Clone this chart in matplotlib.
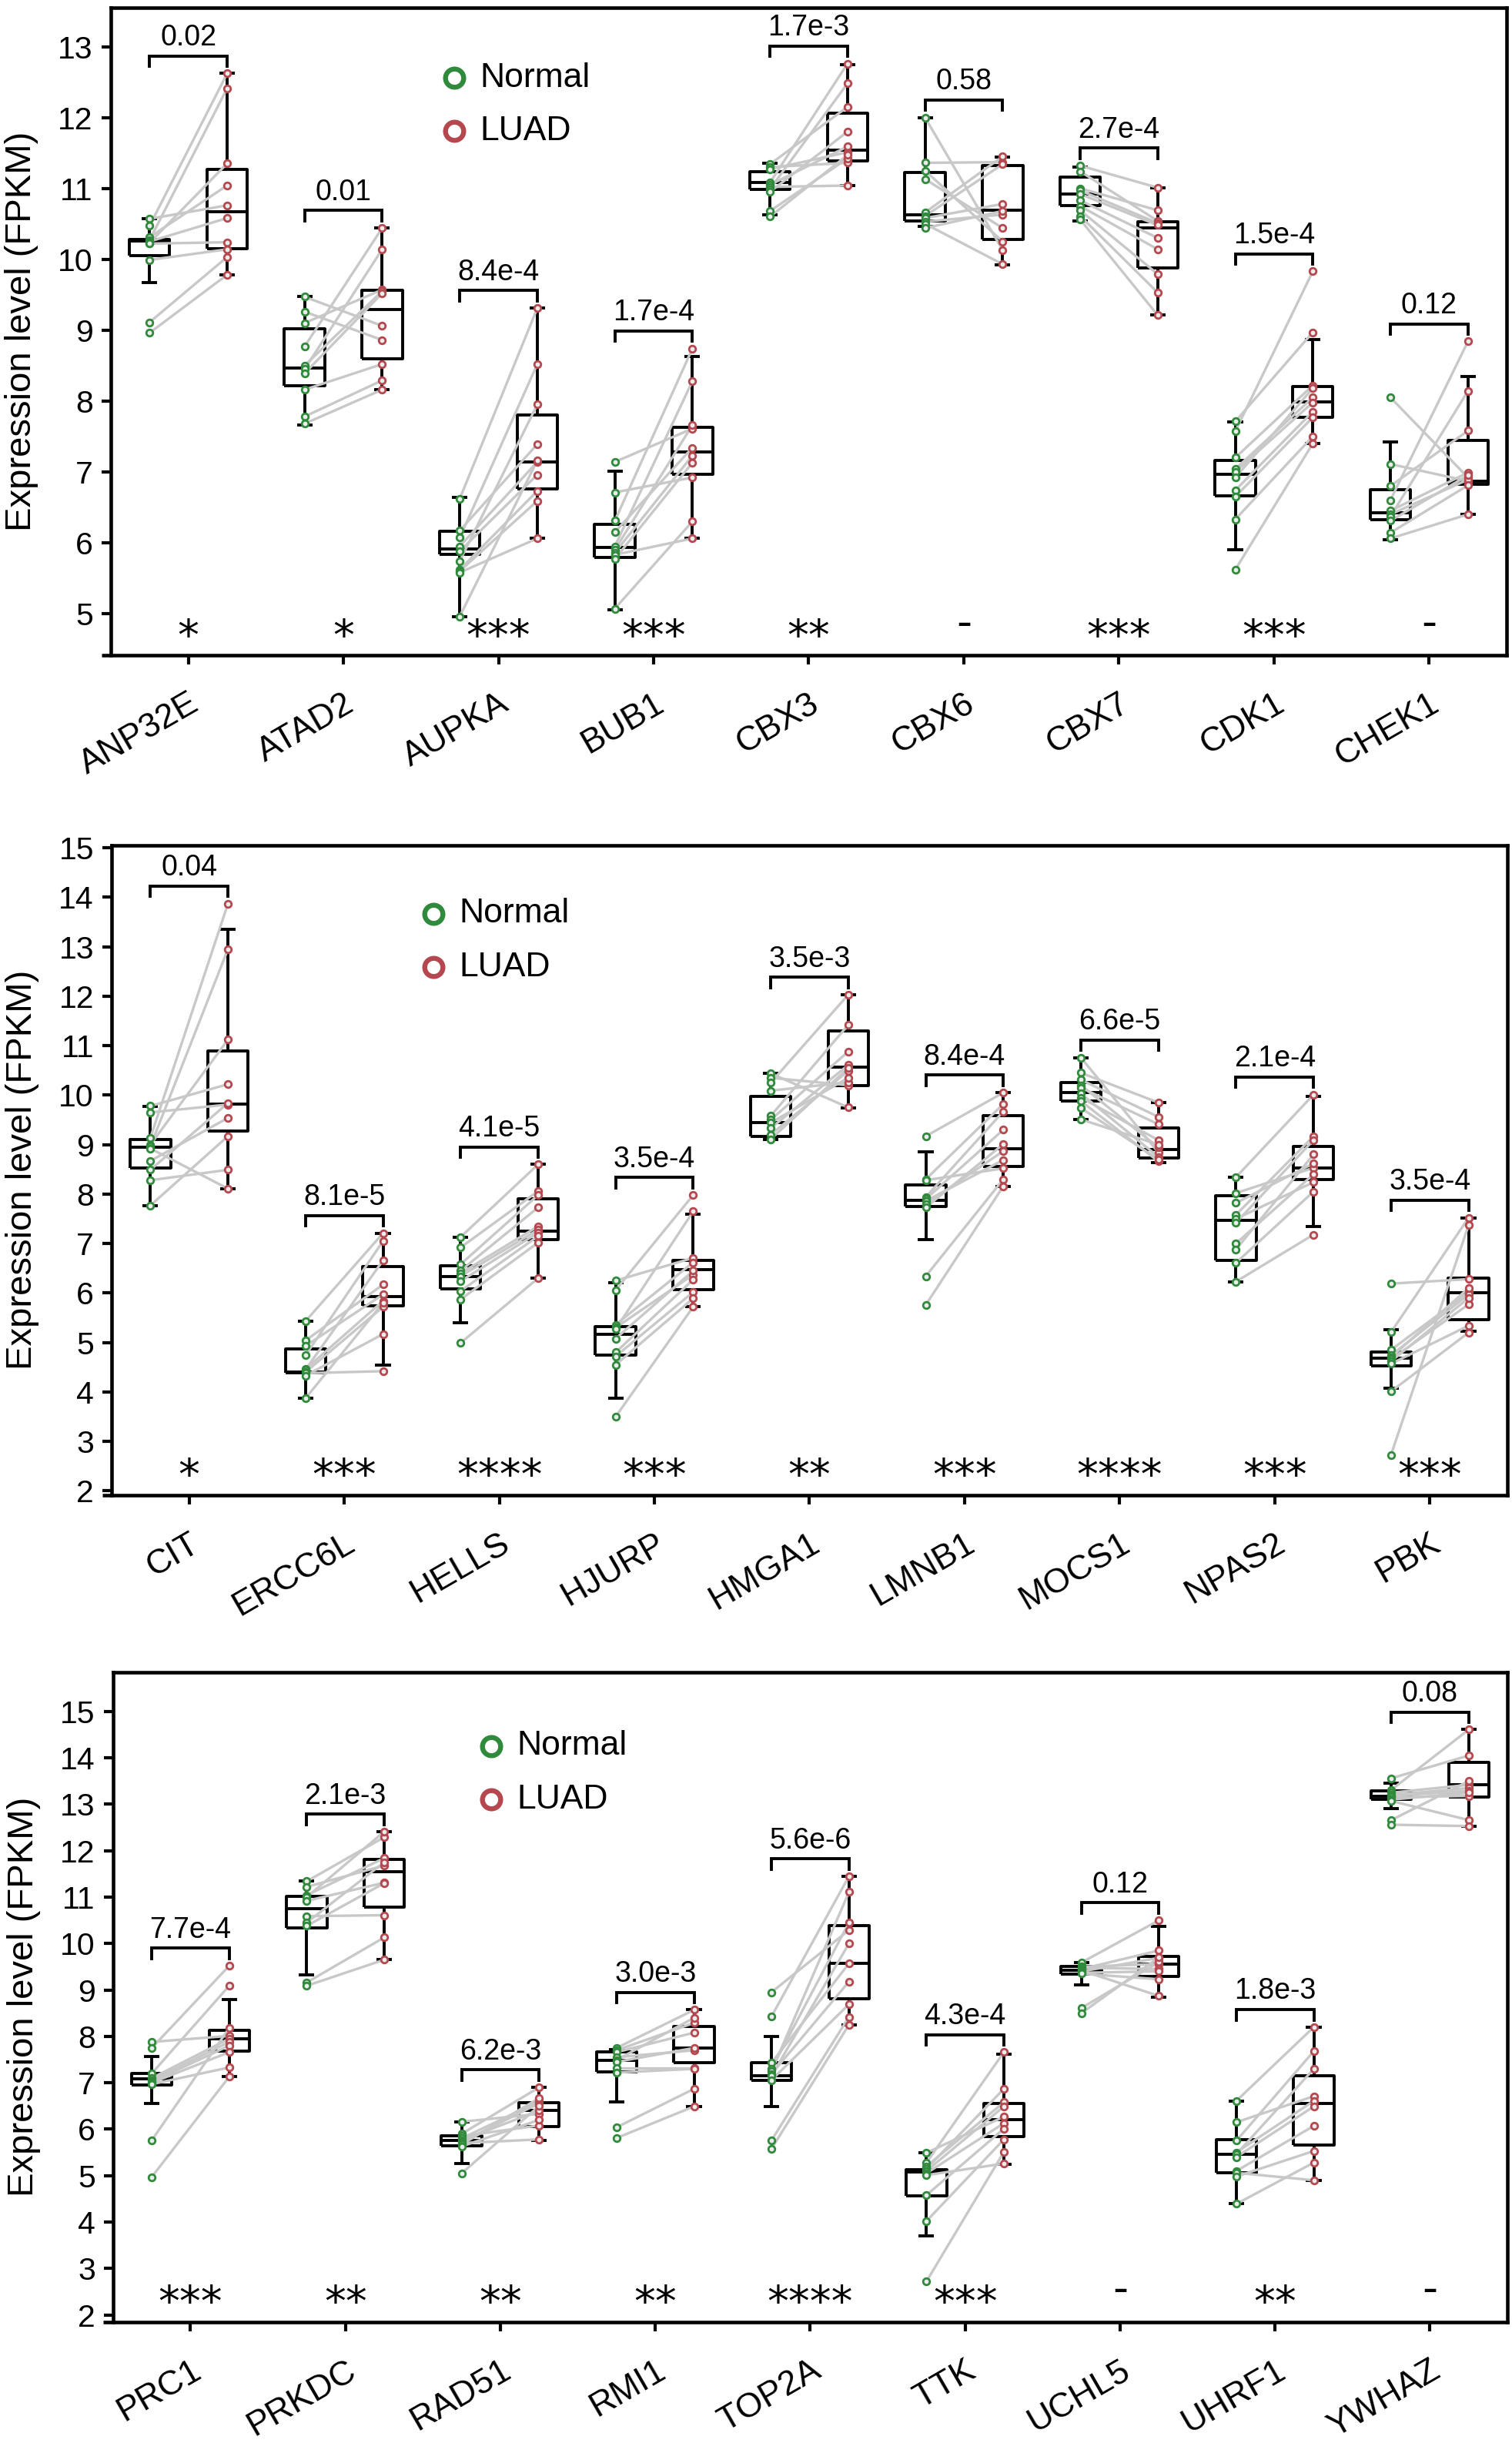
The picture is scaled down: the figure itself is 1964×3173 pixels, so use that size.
import matplotlib
matplotlib.use("Agg")
import matplotlib.pyplot as plt
from matplotlib.transforms import ScaledTranslation, blended_transform_factory

plt.rcParams["font.family"] = ["Liberation Sans", "DejaVu Sans"]

GREEN = "#2f8a3c"
RED = "#b5474f"
GREY = "#c8c8c8"

# ---- top panel ----
GENES_TOP = ["ANP32E", "ATAD2", "AUPKA", "BUB1", "CBX3", "CBX6", "CBX7", "CDK1", "CHEK1"]
NORMAL_TOP = [
    [10.57, 10.47, 10.31, 10.27, 10.25, 10.23, 10.22, 9.99, 9.11, 8.96],
    [9.47, 9.26, 9.10, 8.77, 8.50, 8.45, 8.39, 8.16, 7.78, 7.68],
    [6.62, 6.17, 6.07, 5.95, 5.88, 5.74, 5.62, 5.60, 5.58, 4.96],
    [7.14, 6.71, 6.31, 6.15, 5.95, 5.90, 5.86, 5.83, 5.77, 5.07],
    [11.34, 11.30, 11.27, 11.08, 11.05, 11.02, 10.99, 10.95, 10.68, 10.60],
    [12.00, 11.36, 11.25, 11.13, 10.66, 10.61, 10.58, 10.53, 10.50, 10.44],
    [11.32, 11.24, 11.00, 10.97, 10.92, 10.83, 10.75, 10.69, 10.61, 10.56],
    [7.71, 7.57, 7.20, 7.04, 7.00, 6.92, 6.74, 6.65, 6.33, 5.62],
    [8.05, 7.11, 6.80, 6.60, 6.45, 6.40, 6.37, 6.31, 6.14, 6.06],
]
LUAD_TOP = [
    [10.76, 12.62, 11.04, 12.41, 10.58, 11.35, 10.24, 10.14, 10.03, 9.78],
    [9.06, 8.86, 9.57, 10.44, 9.55, 10.14, 9.52, 8.52, 8.29, 8.16],
    [9.31, 7.39, 8.52, 7.14, 6.96, 7.95, 6.73, 6.59, 6.06, 7.16],
    [7.61, 6.92, 8.74, 7.34, 8.28, 7.66, 7.23, 6.06, 7.13, 6.30],
    [12.15, 11.36, 11.51, 12.76, 11.59, 11.04, 12.48, 11.80, 11.42, 11.47],
    [10.13, 11.37, 10.25, 10.44, 11.45, 11.34, 10.78, 10.63, 9.93, 10.68],
    [11.01, 10.54, 10.69, 10.51, 10.48, 10.30, 10.14, 9.79, 9.53, 9.21],
    [8.97, 9.83, 8.22, 8.05, 7.98, 8.18, 7.85, 7.77, 7.50, 7.40],
    [6.92, 6.87, 7.58, 8.84, 6.99, 6.89, 8.14, 6.95, 6.81, 6.40],
]
# box stats: whisker low, q1, median, q3, whisker high
NORMAL_BOX_TOP = [
    [9.67, 10.05, 10.26, 10.28, 10.57],
    [7.66, 8.21, 8.46, 9.02, 9.47],
    [4.96, 5.84, 5.91, 6.16, 6.64],
    [5.05, 5.79, 5.93, 6.26, 7.01],
    [10.63, 10.99, 11.08, 11.23, 11.35],
    [10.46, 10.54, 10.63, 11.22, 12.00],
    [10.54, 10.76, 10.92, 11.16, 11.30],
    [5.90, 6.66, 6.97, 7.16, 7.70],
    [6.04, 6.33, 6.42, 6.75, 7.42],
]
LUAD_BOX_TOP = [
    [9.78, 10.15, 10.67, 11.27, 12.62],
    [8.16, 8.60, 9.29, 9.56, 10.44],
    [6.06, 6.76, 7.14, 7.80, 9.31],
    [6.06, 6.97, 7.28, 7.63, 8.63],
    [11.04, 11.39, 11.54, 12.06, 12.74],
    [9.92, 10.28, 10.69, 11.32, 11.44],
    [9.21, 9.88, 10.44, 10.53, 11.01],
    [7.40, 7.77, 7.99, 8.20, 8.87],
    [6.40, 6.83, 6.87, 7.44, 8.34],
]
PVAL_TOP = ["0.02", "0.01", "8.4e-4", "1.7e-4", "1.7e-3", "0.58", "2.7e-4", "1.5e-4", "0.12"]
SIG_TOP = ["*", "*", "***", "***", "**", "-", "***", "***", "-"]

# ---- middle panel ----
GENES_MID = ["CIT", "ERCC6L", "HELLS", "HJURP", "HMGA1", "LMNB1", "MOCS1", "NPAS2", "PBK"]
NORMAL_MID = [
    [9.78, 9.65, 9.14, 9.00, 8.97, 8.92, 8.67, 8.49, 8.28, 7.77],
    [5.43, 5.04, 4.93, 4.74, 4.46, 4.45, 4.40, 4.38, 4.33, 3.87],
    [7.13, 6.92, 6.58, 6.45, 6.40, 6.34, 6.24, 6.04, 5.87, 4.99],
    [6.25, 6.06, 5.36, 5.30, 5.27, 5.08, 4.80, 4.72, 4.55, 3.50],
    [10.44, 10.35, 10.25, 10.09, 9.58, 9.50, 9.44, 9.33, 9.20, 9.11],
    [9.17, 8.30, 8.28, 7.94, 7.90, 7.86, 7.80, 7.73, 6.34, 5.76],
    [10.76, 10.45, 10.31, 10.20, 10.15, 10.03, 9.95, 9.88, 9.74, 9.51],
    [8.34, 8.02, 7.82, 7.58, 7.50, 7.42, 7.00, 6.88, 6.61, 6.23],
    [6.19, 5.21, 4.85, 4.74, 4.70, 4.66, 4.62, 4.57, 4.01, 2.73],
]
LUAD_MID = [
    [10.22, 9.81, 13.87, 11.12, 12.95, 8.11, 9.54, 9.84, 8.49, 9.17],
    [7.21, 6.17, 5.97, 7.05, 5.84, 6.66, 5.72, 4.42, 5.17, 5.80],
    [8.60, 8.06, 7.98, 7.73, 7.35, 7.28, 7.22, 7.15, 7.02, 6.30],
    [6.71, 7.98, 6.62, 6.37, 7.65, 6.45, 6.27, 6.02, 5.89, 5.72],
    [9.75, 10.20, 12.03, 10.26, 11.42, 10.88, 10.35, 10.61, 10.49, 10.55],
    [10.05, 9.82, 8.52, 9.67, 9.30, 8.69, 8.87, 9.01, 8.30, 8.16],
    [8.84, 9.85, 9.56, 8.94, 9.41, 8.75, 9.09, 8.66, 8.70, 9.00],
    [10.01, 8.53, 8.62, 9.17, 8.24, 9.09, 8.40, 8.80, 8.05, 7.18],
    [6.28, 7.52, 6.02, 5.97, 6.10, 5.77, 5.90, 5.34, 5.20, 7.37],
]
NORMAL_BOX_MID = [
    [7.77, 8.53, 8.94, 9.10, 9.77],
    [3.87, 4.38, 4.40, 4.87, 5.43],
    [5.40, 6.08, 6.34, 6.55, 7.13],
    [3.87, 4.74, 5.17, 5.32, 6.21],
    [9.10, 9.17, 9.44, 9.98, 10.44],
    [7.08, 7.75, 7.88, 8.19, 8.85],
    [9.51, 9.88, 10.05, 10.25, 10.76],
    [6.23, 6.66, 7.47, 7.96, 8.34],
    [4.08, 4.53, 4.68, 4.80, 5.26],
]
LUAD_BOX_MID = [
    [8.11, 9.27, 9.82, 10.89, 13.35],
    [4.54, 5.74, 5.93, 6.54, 7.20],
    [6.30, 7.08, 7.25, 7.90, 8.60],
    [5.72, 6.07, 6.47, 6.66, 7.59],
    [9.74, 10.20, 10.56, 11.29, 12.03],
    [8.16, 8.56, 8.92, 9.58, 10.05],
    [8.64, 8.73, 8.90, 9.33, 9.85],
    [7.34, 8.30, 8.53, 8.96, 9.97],
    [5.23, 5.46, 6.00, 6.30, 7.52],
]
PVAL_MID = ["0.04", "8.1e-5", "4.1e-5", "3.5e-4", "3.5e-3", "8.4e-4", "6.6e-5", "2.1e-4", "3.5e-4"]
SIG_MID = ["*", "***", "****", "***", "**", "***", "****", "***", "***"]

# ---- bottom panel ----
GENES_BOT = ["PRC1", "PRKDC", "RAD51", "RMI1", "TOP2A", "TTK", "UCHL5", "UHRF1", "YWHAZ"]
NORMAL_BOT = [
    [7.88, 7.75, 7.20, 7.10, 7.05, 7.02, 7.00, 6.97, 5.76, 4.97],
    [11.34, 11.22, 11.04, 11.00, 10.92, 10.59, 10.45, 10.38, 9.16, 9.09],
    [6.16, 5.90, 5.85, 5.80, 5.76, 5.72, 5.70, 5.67, 5.63, 5.05],
    [7.75, 7.70, 7.66, 7.55, 7.49, 7.45, 7.31, 7.22, 6.04, 5.81],
    [8.95, 8.43, 7.43, 7.30, 7.25, 7.19, 7.15, 7.06, 5.76, 5.58],
    [5.49, 5.28, 5.20, 5.15, 5.10, 5.05, 5.01, 4.58, 4.02, 2.72],
    [9.59, 9.50, 9.48, 9.45, 9.42, 9.40, 9.37, 9.35, 8.61, 8.50],
    [6.61, 6.15, 5.75, 5.50, 5.46, 5.40, 5.10, 5.06, 4.98, 4.39],
    [13.56, 13.31, 13.25, 13.20, 13.18, 13.15, 13.10, 13.07, 12.66, 12.56],
]
LUAD_BOT = [
    [8.01, 9.52, 9.09, 7.95, 7.88, 7.80, 7.66, 7.33, 8.18, 7.13],
    [12.29, 11.68, 11.84, 12.41, 11.31, 10.61, 11.75, 11.30, 10.13, 9.65],
    [6.33, 6.90, 6.08, 6.60, 6.40, 6.56, 5.78, 6.67, 6.20, 6.50],
    [8.57, 8.29, 8.08, 7.70, 8.40, 7.75, 7.31, 7.30, 6.87, 6.49],
    [10.29, 11.45, 9.57, 10.45, 11.11, 9.18, 10.00, 8.69, 8.42, 8.25],
    [6.27, 7.66, 6.58, 6.87, 6.49, 6.13, 5.26, 6.01, 5.78, 5.51],
    [10.50, 9.56, 9.45, 9.85, 8.87, 9.69, 9.40, 9.23, 9.60, 9.70],
    [8.20, 6.71, 7.68, 6.61, 7.30, 6.49, 6.07, 4.90, 5.53, 5.28],
    [14.05, 14.61, 13.42, 13.35, 13.29, 13.18, 13.25, 12.66, 13.50, 12.53],
]
NORMAL_BOX_BOT = [
    [6.56, 6.95, 7.08, 7.20, 7.57],
    [9.33, 10.34, 10.75, 11.02, 11.34],
    [5.26, 5.65, 5.75, 5.86, 6.16],
    [6.58, 7.24, 7.49, 7.66, 7.72],
    [6.49, 7.06, 7.15, 7.43, 8.00],
    [3.70, 4.56, 5.08, 5.13, 5.49],
    [9.11, 9.34, 9.43, 9.51, 9.59],
    [4.39, 5.06, 5.46, 5.77, 6.61],
    [12.91, 13.10, 13.18, 13.29, 13.45],
]
LUAD_BOX_BOT = [
    [7.13, 7.69, 7.95, 8.13, 8.79],
    [9.65, 10.79, 11.54, 11.81, 12.41],
    [5.76, 6.06, 6.40, 6.57, 6.90],
    [6.49, 7.43, 7.75, 8.22, 8.57],
    [8.25, 8.81, 9.57, 10.39, 11.45],
    [5.25, 5.84, 6.20, 6.56, 7.61],
    [8.85, 9.29, 9.56, 9.72, 10.37],
    [4.90, 5.66, 6.55, 7.15, 8.20],
    [12.53, 13.16, 13.42, 13.91, 14.61],
]
PVAL_BOT = ["7.7e-4", "2.1e-3", "6.2e-3", "3.0e-3", "5.6e-6", "4.3e-4", "0.12", "1.8e-3", "0.08"]
SIG_BOT = ["***", "**", "**", "**", "****", "***", "-", "**", "-"]

LW = 2.8


def to_stats(row):
    lo, q1, med, q3, hi = row
    return {"whislo": lo, "q1": q1, "med": med, "q3": q3, "whishi": hi, "fliers": []}


def draw_panel(fig, rect, genes, normal, luad, nbox, lbox, pvals, sig, ylim, yticks, leg_xy):
    ax = fig.add_axes(rect)
    ax.set_xlim(-0.5, len(genes) - 0.5)
    ax.set_ylim(*ylim)
    yr = ylim[1] - ylim[0]

    line_kw = {"color": "black", "linewidth": LW, "solid_capstyle": "butt"}
    for i in range(len(genes)):
        xn, xl = i - 0.25, i + 0.25
        ax.bxp([to_stats(nbox[i]), to_stats(lbox[i])], positions=[xn, xl], widths=0.26,
               capwidths=0.1, showfliers=False, manage_ticks=False,
               boxprops=line_kw, whiskerprops=line_kw, capprops=line_kw,
               medianprops=line_kw, zorder=2)
        for a, b in zip(normal[i], luad[i]):
            ax.plot([xn, xl], [a, b], color=GREY, lw=2.4, zorder=3)
        ax.plot([xn] * len(normal[i]), normal[i], "o", ms=6.2, mew=2.0, mfc="#ececec",
                mec=GREEN, zorder=4, linestyle="none")
        ax.plot([xl] * len(luad[i]), luad[i], "o", ms=6.2, mew=2.0, mfc="#ececec",
                mec=RED, zorder=4, linestyle="none")

        # bracket with p-value
        top = max(max(normal[i]), max(luad[i]), lbox[i][4], nbox[i][4]) + 0.027 * yr
        drop = 0.016 * yr
        ax.plot([xn, xn, xl, xl], [top - drop, top, top, top - drop], color="black",
                lw=LW, solid_joinstyle="miter", zorder=5)
        ax.annotate(pvals[i], (i, top), xytext=(0, 4), textcoords="offset points",
                    ha="center", va="bottom", fontsize=27)

        # significance marks
        trans = blended_transform_factory(ax.transData, ax.transAxes)
        dy = -11 if sig[i] == "-" else -24
        ax.annotate(sig[i], (i, 0.048), xycoords=trans, xytext=(0, dy),
                    textcoords="offset points", ha="center", va="baseline",
                    fontsize=40, family="DejaVu Sans")

    ax.set_yticks(yticks)
    ax.set_xticks(range(len(genes)))
    ax.set_xticklabels(genes, rotation=30, ha="right", va="top", rotation_mode="anchor",
                       fontsize=32)
    shift = ScaledTranslation(14 / 100, 0, fig.dpi_scale_trans)
    for lab in ax.get_xticklabels():
        lab.set_transform(lab.get_transform() + shift)
    ax.tick_params(axis="y", labelsize=29.5, length=8.6, width=3, pad=8)
    ax.tick_params(axis="x", length=8.6, width=3, pad=22)
    for sp in ax.spines.values():
        sp.set_linewidth(3.3)
    # bottom spine runs out to the end of the y ticks
    ax.plot([-0.0068, 0], [0, 0], transform=ax.transAxes, clip_on=False, color="black",
            lw=3.3, solid_capstyle="butt")

    ax.set_ylabel("Expression level (FPKM)", fontsize=34)
    ax.yaxis.set_label_coords(-0.052, 0.5)

    # legend
    lx, ly = leg_xy
    for k, (name, col) in enumerate([("Normal", GREEN), ("LUAD", RED)]):
        yy = ly - k * 0.082
        ax.plot([lx], [yy], "o", ms=17, mew=4.6, mfc="white", mec=col,
                transform=ax.transAxes, clip_on=False, zorder=6)
        ax.text(lx + 0.0185, yy, name, transform=ax.transAxes, ha="left", va="center",
                fontsize=32)
    return ax


fig = plt.figure(figsize=(19.65, 31.73), dpi=100)

draw_panel(fig, [0.0732, 0.7318, 0.9228, 0.2652], GENES_TOP, NORMAL_TOP, LUAD_TOP,
           NORMAL_BOX_TOP, LUAD_BOX_TOP, PVAL_TOP, SIG_TOP, (4.413, 13.554),
           range(5, 14), (0.246, 0.891))
draw_panel(fig, [0.0738, 0.3881, 0.9226, 0.2659], GENES_MID, NORMAL_MID, LUAD_MID,
           NORMAL_BOX_MID, LUAD_BOX_MID, PVAL_MID, SIG_MID, (1.92, 15.05),
           range(2, 16), (0.2306, 0.8945))
draw_panel(fig, [0.0747, 0.0496, 0.9218, 0.2660], GENES_BOT, NORMAL_BOT, LUAD_BOT,
           NORMAL_BOX_BOT, LUAD_BOX_BOT, PVAL_BOT, SIG_BOT, (1.85, 15.85),
           range(2, 16), (0.271, 0.886))

fig.savefig("out.png", dpi=100)
plt.close(fig)
